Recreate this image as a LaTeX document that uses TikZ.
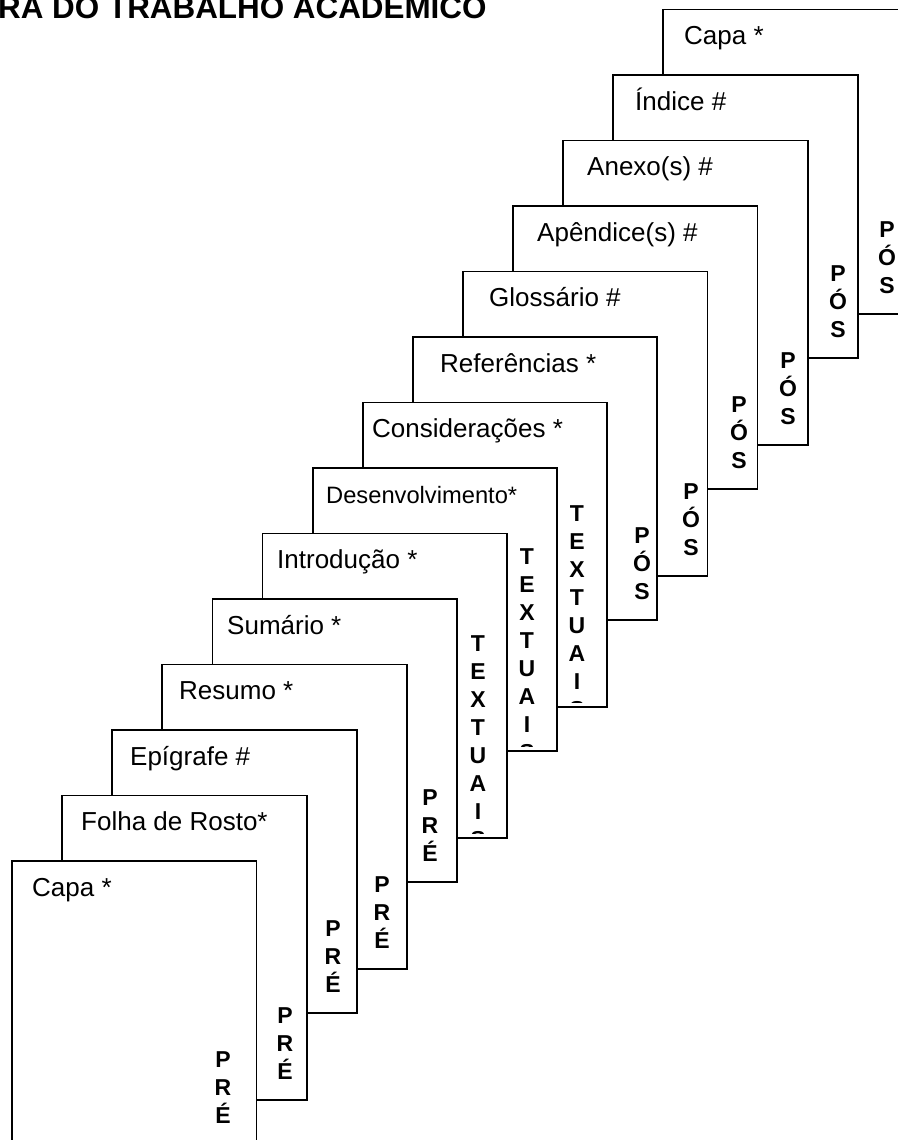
\documentclass[tikz,border=0pt]{standalone}
\usepackage{fontspec}
\setmainfont{Liberation Sans}
\tikzset{
  page/.style={draw, fill=white, line width=1.8pt},
  pagetitle/.style={anchor=base west, inner sep=0pt},
  part/.style={anchor=north, inner sep=0pt, align=center,
    font=\bfseries\fontsize{23}{28}\selectfont},
}

\begin{document}
\begin{tikzpicture}[x=1pt, y=-1pt]
    \useasboundingbox (0,0) rectangle (897,1140);

    % Write the title, cut by the top edge.
    \node[pagetitle, font=\bfseries\fontsize{31.4}{36}\selectfont] (title) at (-2,18.3) {RA DO TRABALHO ACADEMICO};

    % Draw the pages from the back to the front.
    \foreach \i/\lbl/\fs/\tx/\ybot/\sx/\soff/\ptxt in {
        14/Capa */26/684/314/887/212/P\\Ó\\S,
        13/Índice \#/26/635/358/838/190/P\\Ó\\S,
        12/Anexo(s) \#/26/587/445/788/212/P\\Ó\\S,
        11/Apêndice(s) \#/26/537/489/739/190/P\\Ó\\S,
        10/Glossário \#/26/489/576/691/212/P\\Ó\\S,
        9/Referências */26/440/620/642/190/P\\Ó\\S,
        8/Considerações */26/372/707/577/102.5/T\\E\\X\\T\\U\\A\\I\\S,
        7/Desenvolvimento*/23.7/326/751/527/80/T\\E\\X\\T\\U\\A\\I\\S,
        6/Introdução */26/277/838/478/101.5/T\\E\\X\\T\\U\\A\\I\\S,
        5/Sumário */26/227/882/430/190/P\\R\\É,
        4/Resumo */26/179/969/382/212/P\\R\\É,
        3/Epígrafe \#/26/130/1013/333/190/P\\R\\É,
        2/Folha de Rosto*/26/81/1100/285/212/P\\R\\É,
        1/Capa */26/32/1144/223/190/P\\R\\É} {
      \pgfmathsetmacro\lft{12+50.1*(\i-1)}
      \pgfmathsetmacro\tp{861-65.5*(\i-1)}
      \draw[page] (\lft,\tp) rectangle (\lft+244.5,\ybot);
      \node[pagetitle, font=\fontsize{\fs}{\fs}\selectfont] (t\i) at (\tx,\tp+35) {\lbl};
      % Part name down the right side, cut by the page bottom.
      \begin{scope}
        \clip (\lft,\tp) rectangle (\lft+244.5,\ybot-5);
        \node[part] (s\i) at (\sx,\tp+\soff) {\ptxt};
      \end{scope}
    }
\end{tikzpicture}
\end{document}
